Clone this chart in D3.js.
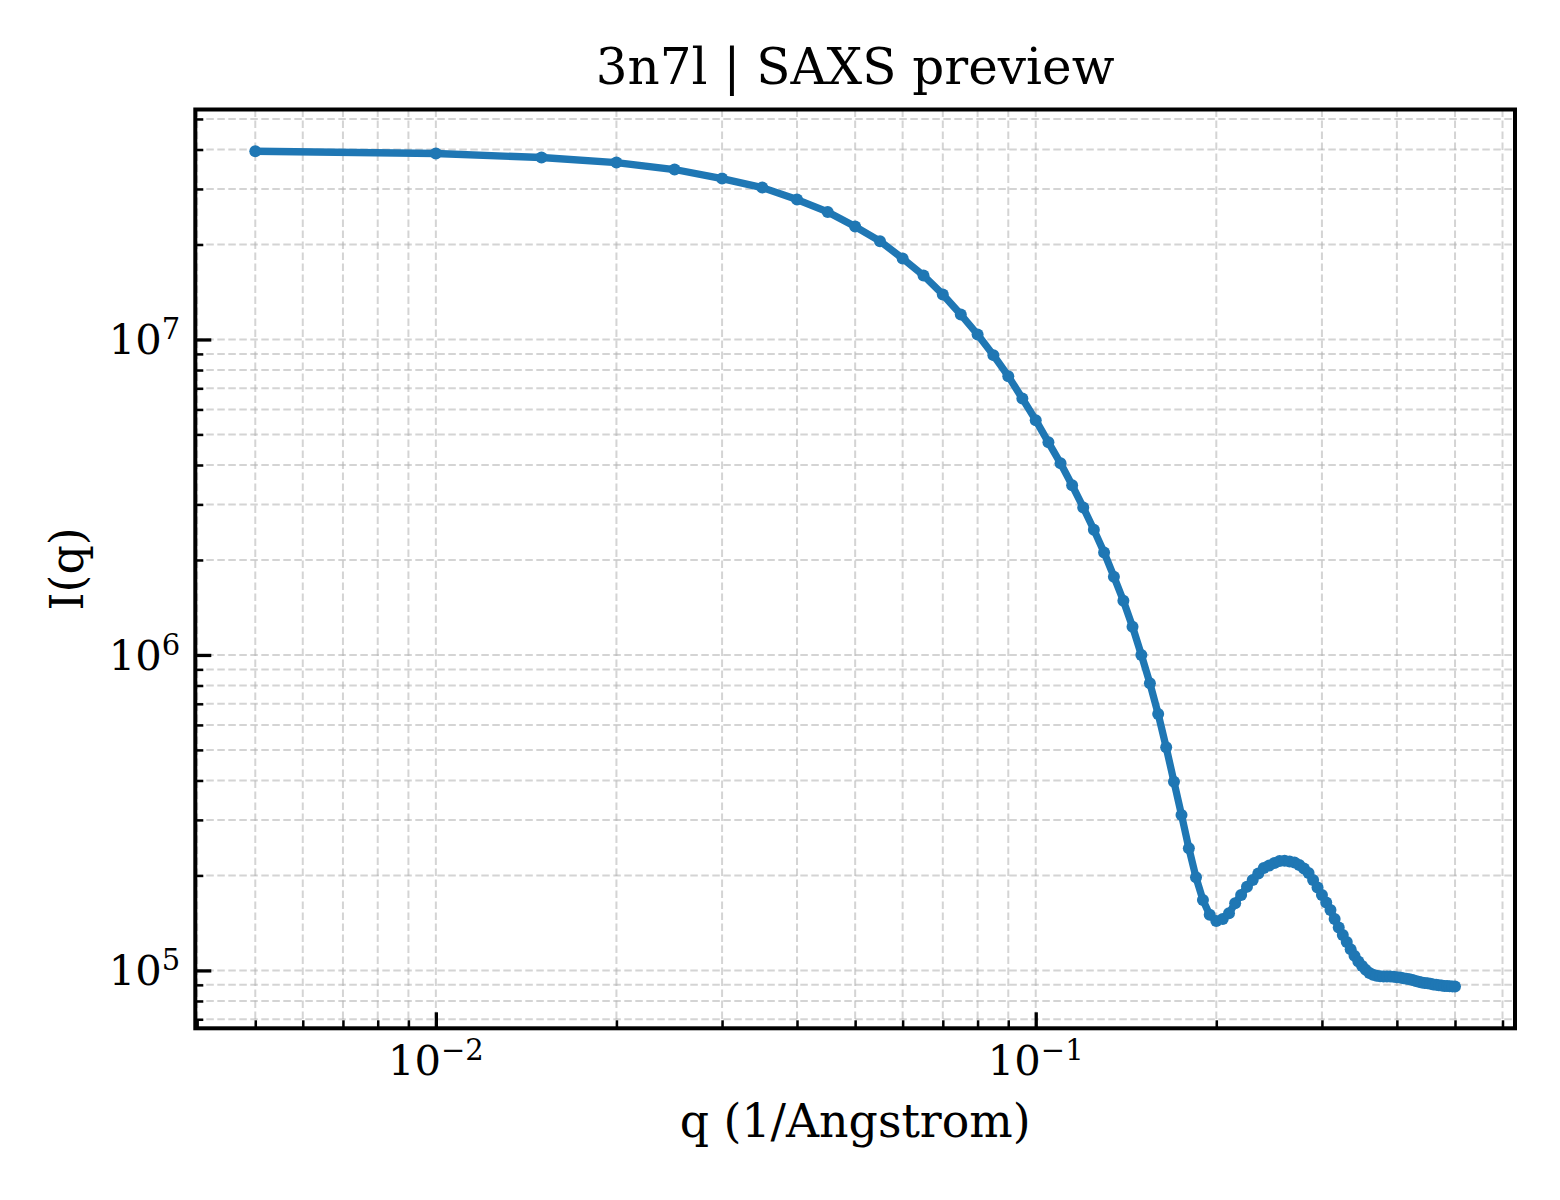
<!DOCTYPE html>
<html>
<head>
<meta charset="utf-8">
<script src="https://cdn.jsdelivr.net/npm/d3@7"></script>
<style>
  body { margin: 0; background: #fff; }
  svg text { font-family: "DejaVu Serif", serif; fill: #000; }
</style>
</head>
<body>
<div id="chart"></div>
<script>
// scattering vector q (1/Angstrom)
const qValues = [
  0.005, 0.010, 0.015, 0.020, 0.025, 0.030, 0.035, 0.040, 0.045, 0.050,
  0.055, 0.060, 0.065, 0.070, 0.075, 0.080, 0.085, 0.090, 0.095, 0.100,
  0.105, 0.110, 0.115, 0.120, 0.125, 0.130, 0.135, 0.140, 0.145, 0.150,
  0.155, 0.160, 0.165, 0.170, 0.175, 0.180, 0.185, 0.190, 0.195, 0.200,
  0.205, 0.210, 0.215, 0.220, 0.225, 0.230, 0.235, 0.240, 0.245, 0.250,
  0.255, 0.260, 0.265, 0.270, 0.275, 0.280, 0.285, 0.290, 0.295, 0.300,
  0.305, 0.310, 0.315, 0.320, 0.325, 0.330, 0.335, 0.340, 0.345, 0.350,
  0.355, 0.360, 0.365, 0.370, 0.375, 0.380, 0.385, 0.390, 0.395, 0.400,
  0.405, 0.410, 0.415, 0.420, 0.425, 0.430, 0.435, 0.440, 0.445, 0.450,
  0.455, 0.460, 0.465, 0.470, 0.475, 0.480, 0.485, 0.490, 0.495, 0.500
];

// intensity I(q)
const intensity = [
  3.95e7, 3.886e7, 3.774e7, 3.638e7, 3.457e7, 3.236e7, 3.03e7, 2.777e7, 2.537e7, 2.28e7,
  2.049e7, 1.806e7, 1.595e7, 1.389e7, 1.2e7, 1.037e7, 8.92e6, 7.65e6, 6.50e6, 5.55e6,
  4.72e6, 4.05e6, 3.45e6, 2.935e6, 2.493e6, 2.114e6, 1.77e6, 1.485e6, 1.229e6, 1.0e6,
  8.13e5, 6.5e5, 5.095e5, 3.963e5, 3.11e5, 2.44e5, 1.973e5, 1.672e5, 1.50e5, 1.435e5,
  1.456e5, 1.518e5, 1.633e5, 1.735e5, 1.843e5, 1.935e5, 2.03e5, 2.11e5, 2.151e5, 2.191e5,
  2.223e5, 2.226e5, 2.215e5, 2.199e5, 2.159e5, 2.105e5, 2.037e5, 1.935e5, 1.832e5, 1.735e5,
  1.642e5, 1.555e5, 1.456e5, 1.369e5, 1.296e5, 1.231e5, 1.166e5, 1.112e5, 1.068e5, 1.033e5,
  1.004e5, 9.82e4, 9.68e4, 9.61e4, 9.58e4, 9.57e4, 9.57e4, 9.56e4, 9.54e4, 9.52e4,
  9.49e4, 9.45e4, 9.41e4, 9.37e4, 9.32e4, 9.26e4, 9.21e4, 9.16e4, 9.13e4, 9.10e4,
  9.07e4, 9.03e4, 9.01e4, 8.98e4, 8.96e4, 8.93e4, 8.92e4, 8.91e4, 8.90e4, 8.89e4
];

const xMajorTicks = [0.01, 0.1];
const yMajorTicks = [1e5, 1e6, 1e7];

const titleText = '3n7l | SAXS preview';
const xLabelText = 'q (1/Angstrom)';
const yLabelText = 'I(q)';

const width = 1560;
const height = 1200;
const margin = { top: 109.5, right: 45, bottom: 171.7, left: 195.3 };
const plotW = width - margin.left - margin.right;
const plotH = height - margin.top - margin.bottom;

// matplotlib style 5% padding in log space
function logPad(arr) {
  const lo = Math.log10(d3.min(arr)), hi = Math.log10(d3.max(arr));
  const p = (hi - lo) * 0.05;
  return [Math.pow(10, lo - p), Math.pow(10, hi + p)];
}

const x = d3.scaleLog().domain(logPad(qValues)).range([0, plotW]);
const y = d3.scaleLog().domain(logPad(intensity)).range([plotH, 0]);

const isMajor = v => Math.abs(Math.log10(v) - Math.round(Math.log10(v))) < 1e-9;
const xMinorTicks = x.ticks().filter(v => !isMajor(v));
const yMinorTicks = y.ticks().filter(v => !isMajor(v));

const svg = d3.select('#chart')
  .append('svg')
  .attr('width', width)
  .attr('height', height);

const g = svg.append('g')
  .attr('transform', `translate(${margin.left},${margin.top})`);

// grid (major + minor)
const grid = g.append('g')
  .attr('stroke', '#b0b0b0')
  .attr('stroke-opacity', 0.55)
  .attr('stroke-width', 2)
  .attr('stroke-dasharray', '7.5,3.5');

grid.selectAll('.gx')
  .data(xMajorTicks.concat(xMinorTicks))
  .enter().append('line')
  .attr('x1', d => x(d)).attr('x2', d => x(d))
  .attr('y1', 0).attr('y2', plotH);

grid.selectAll('.gy')
  .data(yMajorTicks.concat(yMinorTicks))
  .enter().append('line')
  .attr('x1', 0).attr('x2', plotW)
  .attr('y1', d => y(d)).attr('y2', d => y(d));

// curve
const line = d3.line()
  .x((d, i) => x(qValues[i]))
  .y(d => y(d));

g.append('path')
  .datum(intensity)
  .attr('fill', 'none')
  .attr('stroke', '#1f77b4')
  .attr('stroke-width', 7.3)
  .attr('stroke-linejoin', 'round')
  .attr('stroke-linecap', 'round')
  .attr('d', line);

g.selectAll('.pt')
  .data(intensity)
  .enter().append('circle')
  .attr('cx', (d, i) => x(qValues[i]))
  .attr('cy', d => y(d))
  .attr('r', 6)
  .attr('fill', '#1f77b4');

// axes, ticks pointing inward
function styleAxis(sel, w) {
  sel.select('.domain').remove();
  sel.selectAll('.tick line').attr('stroke', '#000').attr('stroke-width', w);
}

const xMinorAxis = g.append('g')
  .attr('transform', `translate(0,${plotH})`)
  .call(d3.axisBottom(x).tickValues(xMinorTicks).tickSize(-8).tickFormat(''));
styleAxis(xMinorAxis, 2.5);

const xMajorAxis = g.append('g')
  .attr('transform', `translate(0,${plotH})`)
  .call(d3.axisBottom(x).tickValues(xMajorTicks).tickSize(-16).tickFormat(''));
styleAxis(xMajorAxis, 3.3);

const yMinorAxis = g.append('g')
  .call(d3.axisLeft(y).tickValues(yMinorTicks).tickSize(-8).tickFormat(''));
styleAxis(yMinorAxis, 2.5);

const yMajorAxis = g.append('g')
  .call(d3.axisLeft(y).tickValues(yMajorTicks).tickSize(-16).tickFormat(''));
styleAxis(yMajorAxis, 3.3);

// tick labels as 10^n
function powerLabel(sel, v) {
  const e = Math.round(Math.log10(v));
  sel.append('tspan').text('10');
  sel.append('tspan')
    .attr('font-size', 29)
    .attr('dy', -15)
    .text(e < 0 ? '\u2212' + (-e) : String(e));
}

xMajorTicks.forEach(v => {
  const t = g.append('text')
    .attr('x', x(v))
    .attr('y', plotH + 46.7)
    .attr('text-anchor', 'middle')
    .attr('font-size', 41.7);
  powerLabel(t, v);
});

yMajorTicks.forEach(v => {
  const t = g.append('text')
    .attr('x', -15)
    .attr('y', y(v) + 15)
    .attr('text-anchor', 'end')
    .attr('font-size', 41.7);
  powerLabel(t, v);
});

// frame
g.append('rect')
  .attr('width', plotW)
  .attr('height', plotH)
  .attr('fill', 'none')
  .attr('stroke', '#000')
  .attr('stroke-width', 4);

// title and labels
svg.append('text')
  .attr('x', margin.left + plotW / 2)
  .attr('y', 84)
  .attr('text-anchor', 'middle')
  .attr('font-size', 50)
  .text(titleText);

svg.append('text')
  .attr('x', margin.left + plotW / 2)
  .attr('y', 1137)
  .attr('text-anchor', 'middle')
  .attr('font-size', 45.8)
  .text(xLabelText);

svg.append('text')
  .attr('transform', `translate(83,${margin.top + plotH / 2}) rotate(-90)`)
  .attr('text-anchor', 'middle')
  .attr('font-size', 45.8)
  .text(yLabelText);
</script>
</body>
</html>
